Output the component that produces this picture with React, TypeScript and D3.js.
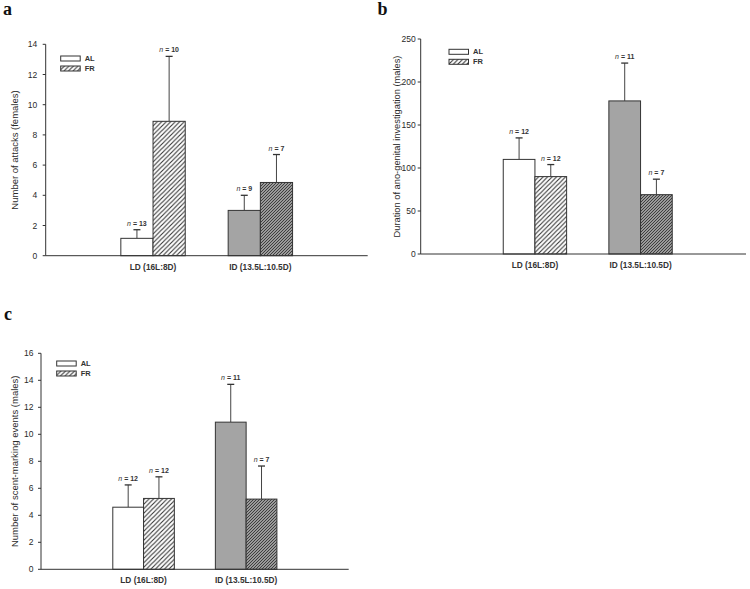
import React from "react";
import * as d3 from "d3";

// ---------- data ----------
const categories = ["LD (16L:8D)", "ID (13.5L:10.5D)"];
const seriesNames = ["AL", "FR"];

// panel a: number of attacks (females)
const attacksAL = [1.15, 3.0];
const attacksALerr = [0.57, 1.0];
const attacksFR = [8.9, 4.85];
const attacksFRerr = [4.3, 1.85];
const attacksN_AL = [13, 9];
const attacksN_FR = [10, 7];

// panel b: duration of ano-genital investigation (males)
const durationAL = [110, 178];
const durationALerr = [25, 44];
const durationFR = [90, 69];
const durationFRerr = [14, 18];
const durationN_AL = [12, 11];
const durationN_FR = [12, 7];

// panel c: number of scent-marking events (males)
const scentAL = [4.6, 10.9];
const scentALerr = [1.65, 2.8];
const scentFR = [5.25, 5.2];
const scentFRerr = [1.6, 2.45];
const scentN_AL = [12, 11];
const scentN_FR = [12, 7];

const FONT = "'Liberation Sans', Arial, sans-serif";
const INK = "#2a2a2a";

type PanelProps = {
  letter: string;
  letterX: number;
  letterY: number;
  yLabel: string;
  yLabelX: number;
  yLabelSize: number;
  tickGap: number;
  x0: number;
  x1: number;
  yBottom: number;
  yTop: number;
  yMax: number;
  tickCount: number;
  padding: number;
  align: number;
  al: number[];
  alErr: number[];
  fr: number[];
  frErr: number[];
  nAL: number[];
  nFR: number[];
  legendX: number;
  legendY: number;
  id: string;
};

function Panel(p: PanelProps) {
  const y = d3.scaleLinear().domain([0, p.yMax]).range([p.yBottom, p.yTop]);
  const x = d3
    .scalePoint<string>()
    .domain(categories)
    .range([p.x0, p.x1])
    .padding(p.padding)
    .align(p.align);
  const bw = x.step() * 0.3;
  const ticks = y.ticks(p.tickCount);

  const fills = [
    ["#ffffff", `url(#hatchLight-${p.id})`],
    ["#a4a4a4", `url(#hatchDark-${p.id})`],
  ];

  const bars: any[] = [];
  categories.forEach((c, ci) => {
    const cx = x(c) as number;
    const vals = [p.al[ci], p.fr[ci]];
    const errs = [p.alErr[ci], p.frErr[ci]];
    const ns = [p.nAL[ci], p.nFR[ci]];
    vals.forEach((v, si) => {
      const left = si === 0 ? cx - bw : cx;
      const mid = left + bw / 2;
      const top = y(v);
      const et = y(v + errs[si]);
      bars.push(
        <g key={`${c}-${si}`}>
          <line x1={mid} x2={mid} y1={top} y2={et} stroke="#444" strokeWidth={1} />
          <line x1={mid - 3.5} x2={mid + 3.5} y1={et} y2={et} stroke="#333" strokeWidth={1.3} />
          <rect
            x={left}
            y={top}
            width={bw}
            height={p.yBottom - top}
            fill={fills[ci][si]}
            stroke="#333"
            strokeWidth={1}
          />
          <text
            x={mid}
            y={et - 4}
            textAnchor="middle"
            fontSize={7}
            fontWeight="bold"
            fill="#333"
            fontFamily={FONT}
          >
            <tspan fontStyle="italic" fontWeight="normal">n</tspan>
            {` = ${ns[si]}`}
          </text>
        </g>
      );
    });
  });

  const yMid = (p.yBottom + p.yTop) / 2;

  return (
    <g>
      <defs>
        <pattern id={`hatchLight-${p.id}`} patternUnits="userSpaceOnUse" width={4.5} height={4.5}>
          <rect width={4.5} height={4.5} fill="#ffffff" />
          <path d="M0,4.5 L4.5,0 M-1,1 L1,-1 M3.5,5.5 L5.5,3.5" stroke="#333" strokeWidth={1.1} />
        </pattern>
        <pattern id={`hatchDark-${p.id}`} patternUnits="userSpaceOnUse" width={3} height={3}>
          <rect width={3} height={3} fill="#9a9a9a" />
          <path d="M0,3 L3,0 M-1,1 L1,-1 M2,4 L4,2" stroke="#333" strokeWidth={0.9} />
        </pattern>
      </defs>
      <text x={p.letterX} y={p.letterY} fontFamily="'Liberation Serif', serif" fontWeight="bold" fontSize={18} fill="#111">
        {p.letter}
      </text>
      {bars}
      {/* axes */}
      <line x1={p.x0} x2={p.x0} y1={p.yBottom} y2={p.yTop} stroke="#333" strokeWidth={1} />
      <line x1={p.x0} x2={p.x1} y1={p.yBottom} y2={p.yBottom} stroke="#333" strokeWidth={1} />
      {ticks.map((t) => (
        <g key={t}>
          <line x1={p.x0 - 3} x2={p.x0} y1={y(t)} y2={y(t)} stroke="#333" strokeWidth={1} />
          <text
            x={p.x0 - p.tickGap}
            y={y(t) + 3}
            textAnchor="end"
            fontSize={8.5}
            fill={INK}
            fontFamily={FONT}
          >
            {t}
          </text>
        </g>
      ))}
      {categories.map((c) => (
        <text
          key={c}
          x={x(c) as number}
          y={p.yBottom + 14}
          textAnchor="middle"
          fontSize={8.3}
          fontWeight="bold"
          fill="#333"
          fontFamily={FONT}
        >
          {c}
        </text>
      ))}
      <text
        transform={`translate(${p.yLabelX},${yMid}) rotate(-90)`}
        textAnchor="middle"
        fontSize={p.yLabelSize}
        fill={INK}
        fontFamily={FONT}
      >
        {p.yLabel}
      </text>
      {/* legend */}
      {seriesNames.map((s, i) => (
        <g key={s}>
          <rect
            x={p.legendX}
            y={p.legendY + i * 10}
            width={19.5}
            height={5}
            fill={i === 0 ? "#ffffff" : `url(#hatchLight-${p.id})`}
            stroke="#333"
            strokeWidth={1}
          />
          <text
            x={p.legendX + 24}
            y={p.legendY + i * 10 + 5}
            fontSize={7.5}
            fontWeight="bold"
            fill="#333"
            fontFamily={FONT}
          >
            {s}
          </text>
        </g>
      ))}
    </g>
  );
}

export default function App() {
  return (
    <svg
      width={750}
      height={589}
      style={{ position: "absolute", left: 0, top: 0, background: "#fff" }}
    >
      <rect width={750} height={589} fill="#fff" />
      <Panel
        id="a"
        letter="a"
        letterX={3}
        letterY={15}
        yLabel="Number of attacks (females)"
        yLabelX={18}
        yLabelSize={9.5}
        tickGap={8.5}
        x0={45.7}
        x1={367.7}
        yBottom={255.7}
        yTop={44.3}
        yMax={14}
        tickCount={7}
        padding={1}
        align={0.5}
        al={attacksAL}
        alErr={attacksALerr}
        fr={attacksFR}
        frErr={attacksFRerr}
        nAL={attacksN_AL}
        nFR={attacksN_FR}
        legendX={60.7}
        legendY={56}
      />
      <Panel
        id="b"
        letter="b"
        letterX={377.5}
        letterY={15}
        yLabel="Duration of ano-genital investigation (males)"
        yLabelX={400}
        yLabelSize={9.3}
        tickGap={5}
        x0={420.7}
        x1={746}
        yBottom={254}
        yTop={39}
        yMax={250}
        tickCount={5}
        padding={1.04}
        align={0.52}
        al={durationAL}
        alErr={durationALerr}
        fr={durationFR}
        frErr={durationFRerr}
        nAL={durationN_AL}
        nFR={durationN_FR}
        legendX={449}
        legendY={49.3}
      />
      <Panel
        id="c"
        letter="c"
        letterX={4}
        letterY={320}
        yLabel="Number of scent-marking events (males)"
        yLabelX={18}
        yLabelSize={9.5}
        tickGap={7.5}
        x0={41}
        x1={348.7}
        yBottom={569.3}
        yTop={353.3}
        yMax={16}
        tickCount={8}
        padding={1}
        align={0.5}
        al={scentAL}
        alErr={scentALerr}
        fr={scentFR}
        frErr={scentFRerr}
        nAL={scentN_AL}
        nFR={scentN_FR}
        legendX={56.7}
        legendY={361}
      />
    </svg>
  );
}
